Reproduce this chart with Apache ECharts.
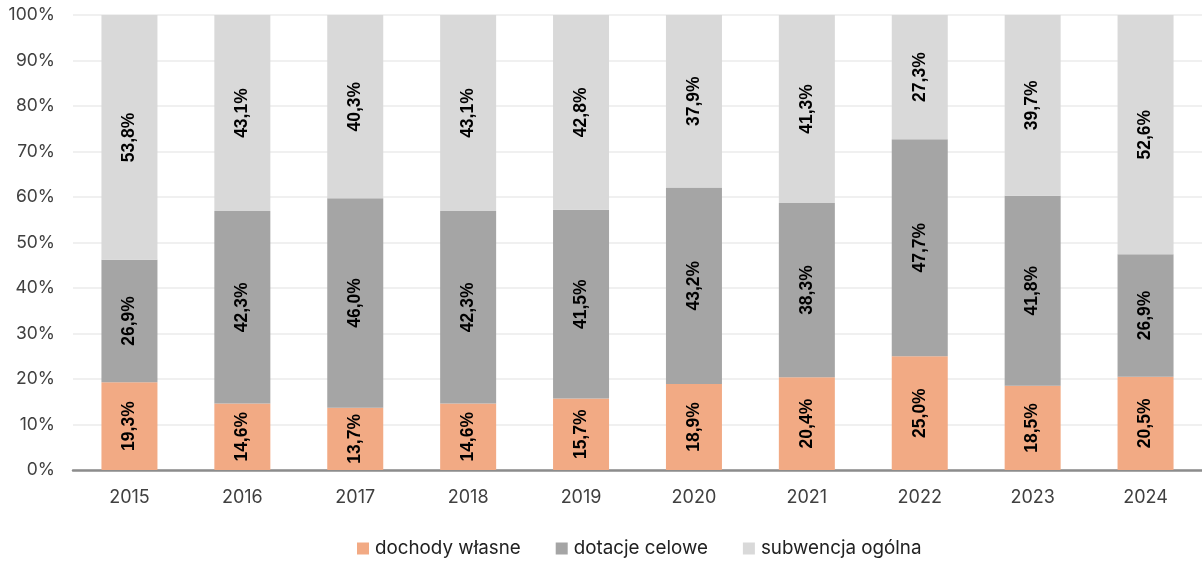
<!DOCTYPE html>
<html><head><meta charset="utf-8">
<script src="https://cdn.jsdelivr.net/npm/echarts@6/dist/echarts.min.js"></script>
<style>html,body{margin:0;padding:0;background:#fff}#c{width:1202px;height:561px}</style>
</head><body><div id="c"></div>
<script>
const categories = ['2015','2016','2017','2018','2019','2020','2021','2022','2023','2024'];
const dochody = [19.3,14.6,13.7,14.6,15.7,18.9,20.4,25.0,18.5,20.5];
const dotacje = [26.9,42.3,46.0,42.3,41.5,43.2,38.3,47.7,41.8,26.9];
const subwencja = [53.8,43.1,40.3,43.1,42.8,37.9,41.3,27.3,39.7,52.6];
const seriesNames = ['dochody własne','dotacje celowe','subwencja ogólna'];
const colors = ['#F2AA84','#A5A5A5','#D9D9D9'];

const chart = echarts.init(document.getElementById('c'));
const lbl = {
  show: true, rotate: 90, position: 'inside', color: '#000',
  fontFamily: 'Liberation Sans, Arial, sans-serif', fontWeight: 'bold', fontSize: 17.5,
  formatter: p => p.value.toFixed(1).replace('.', ',') + '%'
};
function mk(name, data, color) {
  return { name, type: 'bar', stack: 't', data, barWidth: 56,
    itemStyle: { color }, label: lbl, emphasis: { disabled: true } };
}
chart.setOption({
  animation: false,
  grid: { left: 73, right: -3, top: 15, bottom: 91 },
  legend: {
    top: 539, left: 357, itemWidth: 12, itemHeight: 12, itemGap: 35,
    icon: 'rect', padding: 0,
    textStyle: { fontFamily: 'Inter, sans-serif', fontSize: 18.8, color: '#222', padding: [0, 0, 0, 1] },
    data: seriesNames
  },
  xAxis: {
    type: 'category', data: categories,
    axisLine: { lineStyle: { color: '#8C8C8C', width: 2.5 } },
    axisTick: { show: false },
    axisLabel: { fontFamily: 'Inter, sans-serif', fontSize: 18, color: '#404040', margin: 19 }
  },
  yAxis: {
    type: 'value', min: 0, max: 100, interval: 10,
    axisLabel: { formatter: '{value}%', fontFamily: 'Inter, sans-serif', fontSize: 17.5, color: '#404040', margin: 18 },
    splitLine: { lineStyle: { color: '#EBEBEB', width: 1.5 } },
    axisLine: { show: false }, axisTick: { show: false }
  },
  series: [
    mk(seriesNames[0], dochody, colors[0]),
    mk(seriesNames[1], dotacje, colors[1]),
    mk(seriesNames[2], subwencja, colors[2])
  ]
});
</script></body></html>
